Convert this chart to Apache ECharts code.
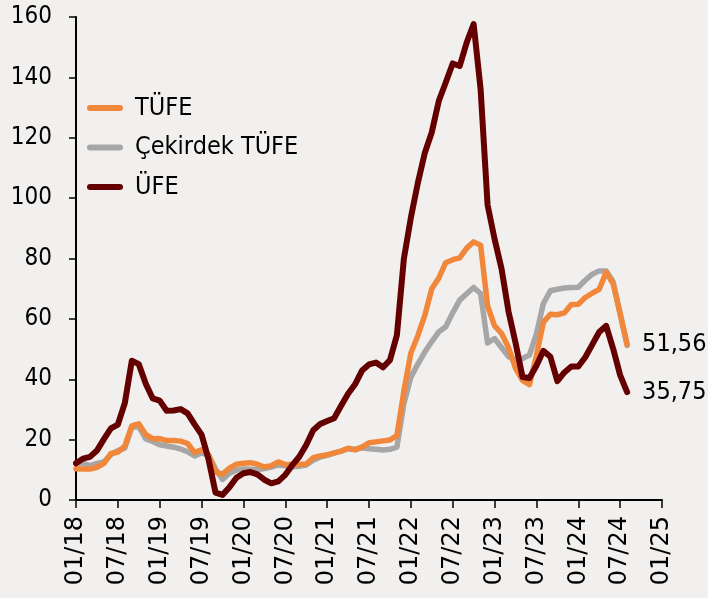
<!DOCTYPE html>
<html>
<head>
<meta charset="utf-8">
<script src="https://cdn.jsdelivr.net/npm/echarts@6/dist/echarts.min.js"></script>
<style>
html,body{margin:0;padding:0;background:#f2f0ee;}
#chart{width:708px;height:598px;}
</style>
</head>
<body>
<div id="chart"></div>
<script>
// Monthly, Jan 2018 - Aug 2024 (annual % change)
const tufe = [
  10.35, 10.26, 10.23, 10.85, 12.15, 15.39, 15.85, 17.90, 24.52, 25.24, 21.62, 20.30,
  20.35, 19.67, 19.71, 19.50, 18.71, 15.72, 16.65, 15.01, 9.26, 8.55, 10.56, 11.84,
  12.15, 12.37, 11.86, 10.94, 11.39, 12.62, 11.76, 11.77, 11.75, 11.89, 14.03, 14.60,
  14.97, 15.61, 16.19, 17.14, 16.59, 17.53, 18.95, 19.25, 19.58, 19.89, 21.31, 36.08,
  48.69, 54.44, 61.14, 69.97, 73.50, 78.62, 79.60, 80.21, 83.45, 85.51, 84.39, 64.27,
  57.68, 55.18, 50.51, 43.68, 39.59, 38.21, 47.83, 58.94, 61.53, 61.36, 61.98, 64.77,
  64.86, 67.07, 68.50, 69.80, 75.45, 71.60, 61.78, 51.56
];
const cekirdek = [
  12.3, 12.1, 11.4, 12.1, 12.6, 15.0, 16.4, 17.2, 24.1, 24.3, 20.2, 19.4,
  18.3, 17.9, 17.5, 16.9, 16.0, 14.6, 15.6, 14.9, 10.3, 6.8, 8.9, 9.9,
  10.3, 10.2, 10.0, 10.4, 10.9, 11.6, 11.3, 11.0, 11.2, 11.6, 13.2, 14.2,
  14.8, 15.5, 16.2, 17.0, 16.8, 17.3, 17.0, 16.8, 16.6, 16.8, 17.5, 31.9,
  40.7, 45.0, 49.0, 52.5, 55.7, 57.4, 62.0, 66.2, 68.3, 70.4, 68.4, 52.0,
  53.5, 50.5, 47.5, 46.5, 46.9, 48.0, 55.0, 65.1, 69.3, 69.8, 70.2, 70.4,
  70.5, 72.8, 74.8, 75.9, 75.9, 72.3, 61.6, 51.2
];
const ufe = [
  12.14, 13.71, 14.28, 16.37, 20.16, 23.71, 25.00, 32.13, 46.15, 45.01, 38.54, 33.64,
  32.93, 29.59, 29.64, 30.12, 28.71, 25.04, 21.66, 13.45, 2.45, 1.70, 4.26, 7.36,
  8.84, 9.26, 8.50, 6.71, 5.53, 6.17, 8.33, 11.53, 14.33, 18.20, 23.11, 25.15,
  26.16, 27.09, 31.20, 35.17, 38.33, 42.89, 44.92, 45.52, 43.96, 46.31, 54.62, 79.89,
  93.53, 105.01, 114.97, 121.82, 132.16, 138.31, 144.61, 143.75, 151.50, 157.69, 136.02, 97.72,
  86.46, 76.61, 62.43, 52.11, 40.76, 40.42, 44.50, 49.41, 47.44, 39.39, 42.25, 44.22,
  44.20, 47.29, 51.47, 55.66, 57.68, 50.09, 41.37, 35.75
];
const tickLabels = ['01/18','07/18','01/19','07/19','01/20','07/20','01/21','07/21',
  '01/22','07/22','01/23','07/23','01/24','07/24','01/25'];
const seriesNames = ['TÜFE', 'Çekirdek TÜFE', 'ÜFE'];

// monthly categories Jan 2018 .. Jan 2025
const categories = [];
for (let y = 18; y <= 25; y++) {
  for (let m = 1; m <= 12; m++) {
    if (y === 25 && m > 1) break;
    categories.push((m < 10 ? '0' + m : '' + m) + '/' + y);
  }
}

const colors = {'TÜFE': '#f0873a', 'Çekirdek TÜFE': '#a6a6a6', 'ÜFE': '#650000'};
const pill = 'path://M3,0 L33,0 A3,3 0 0 1 33,6 L3,6 A3,3 0 0 1 3,0 Z';

function fmt(v) { return v.toFixed(2).replace('.', ','); }

const chart = echarts.init(document.getElementById('chart'), null, {renderer: 'canvas'});
chart.setOption({
  backgroundColor: '#f2f0ee',
  animation: false,
  grid: {left: 76, right: 46, top: 17, bottom: 98, containLabel: false},
  legend: {
    data: seriesNames.map(n => ({name: n, icon: pill, itemStyle: {color: colors[n]}})),
    orient: 'vertical',
    left: 87,
    top: 93,
    padding: 0,
    itemWidth: 36,
    itemHeight: 6,
    itemGap: 9.5,
    textStyle: {fontFamily: 'DejaVu Sans Condensed', fontSize: 25, color: '#000', lineHeight: 30, padding: [0, 0, 0, 7]},
    selectedMode: false
  },
  xAxis: {
    type: 'category',
    data: categories,
    boundaryGap: false,
    axisLine: {lineStyle: {color: '#000', width: 2}},
    axisTick: {show: true, interval: 5, length: 8, lineStyle: {color: '#000', width: 1.5}},
    axisLabel: {
      interval: 5,
      rotate: 90,
      margin: 16,
      fontFamily: 'DejaVu Sans',
      fontSize: 24,
      color: '#000',
      formatter: v => tickLabels.indexOf(v) >= 0 ? v : ''
    },
    splitLine: {show: false}
  },
  yAxis: {
    type: 'value',
    min: 0, max: 160, interval: 20,
    axisLine: {show: true, lineStyle: {color: '#000', width: 2}},
    axisTick: {show: true, length: 7, lineStyle: {color: '#000', width: 1.5}},
    axisLabel: {fontFamily: 'DejaVu Sans Condensed', fontSize: 24, color: '#000', margin: 24},
    splitLine: {show: false}
  },
  series: [
    {
      name: 'Çekirdek TÜFE', type: 'line', data: cekirdek, symbol: 'none',
      lineStyle: {color: colors['Çekirdek TÜFE'], width: 5.5, cap: 'round', join: 'round'},
      itemStyle: {color: colors['Çekirdek TÜFE']}, z: 2
    },
    {
      name: 'TÜFE', type: 'line', data: tufe, symbol: 'none',
      lineStyle: {color: colors['TÜFE'], width: 5.5, cap: 'round', join: 'round'},
      itemStyle: {color: colors['TÜFE']}, z: 3,
      endLabel: {show: true, formatter: p => fmt(p.value), distance: 15,
        fontFamily: 'DejaVu Sans Condensed', fontSize: 25, color: '#000'}
    },
    {
      name: 'ÜFE', type: 'line', data: ufe, symbol: 'none',
      lineStyle: {color: colors['ÜFE'], width: 6, cap: 'round', join: 'round'},
      itemStyle: {color: colors['ÜFE']}, z: 4,
      endLabel: {show: true, formatter: p => fmt(p.value), distance: 15,
        fontFamily: 'DejaVu Sans Condensed', fontSize: 25, color: '#000'}
    }
  ]
});
</script>
</body>
</html>
